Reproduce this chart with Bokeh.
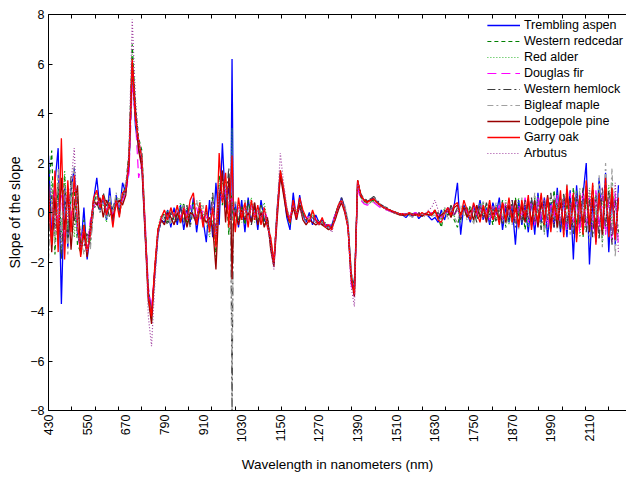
import math
from bokeh.plotting import figure
from bokeh.models import Range1d, FixedTicker, LinearAxis, Legend, LegendItem
from bokeh.embed import file_html
from bokeh.resources import INLINE

# Wavelength grid (nm); extra samples around the 1000 nm detector step
WAVELENGTH = list(range(430, 1000, 10)) + [996, 1000, 1004] + list(range(1010, 2201, 10))

X_TICK_LABELS = list(range(430, 2111, 120))
Y_TICKS = list(range(-8, 9, 2))

SPECIES = ["Trembling aspen", "Western redcedar", "Red alder", "Douglas fir",
           "Western hemlock", "Bigleaf maple", "Lodgepole pine", "Garry oak", "Arbutus"]

TREMBLING_ASPEN = [
    2.3, -1.0, 1.2, 2.6, -3.7, 1.1, -1.4, 0.9, 1.8, -0.8,
    -1.5, 0.2, -1.9, -0.7, 0.5, 1.4, 0.1, 0.6, -0.3, 1.0,
    -0.4, 0.7, 0.0, 1.2, 0.8, 1.8, 6.0, 3.5, 2.6, 1.9,
    -0.8, -3.2, -4.0, -2.5, -0.9, -0.3, -0.4, 0.1, -0.6, 0.2,
    -0.5, 0.3, -0.7, 0.1, -0.4, 0.6, -0.8, 0.2, -0.3, -1.2,
    0.5, -1.0, 1.2, -0.5, 2.8, 0.2, 1.0, -0.3, 6.2, -0.2, 0.4, -0.6,
    0.5, -0.8, 0.6, -0.4, 0.3, -0.7, 0.5, -0.3, -0.5, -1.2,
    -2.1, 0.1, 1.6, 0.9, -0.2, -0.7, 0.8, -0.3, 0.7, -0.1,
    -0.4, 0.0, -0.5, -0.1, -0.4, -0.3, -0.5, -0.6, -0.5, -0.1,
    0.2, 0.6, 0.2, -0.5, -2.5, -3.1, 1.2, 0.7, 0.5, 0.45,
    0.5, 0.6, 0.45, 0.3, 0.25, 0.15, 0.1, 0.05, 0.0, -0.05,
    -0.1, -0.2, -0.05, -0.15, 0.0, -0.25, -0.1, -0.05, -0.15, -0.3,
    -0.2, -0.4, 0.1, -0.3, 0.2, 0.0, 0.3, 1.2, -0.9, 0.3,
    0.0, -0.4, 0.3, -0.2, 0.5, -0.3, 0.2, -0.5, 0.4, -0.1,
    0.6, -0.7, 0.2, -0.4, 0.3, -1.3, 0.5, -0.5, 0.3, -0.8,
    0.5, -0.9, 0.8, -0.4, 0.6, -1.0, 0.4, -0.6, 1.0, -0.8,
    0.6, -1.0, 0.9, -1.9, 1.1, -0.6, 0.7, 2.0, -2.1, 0.5,
    -1.2, 1.4, -0.8, 1.6, -1.6, 0.9, -1.3, 1.1,
]

WESTERN_REDCEDAR = [
    1.0, 2.5, -1.7, 1.2, -0.8, 1.5, -1.1, 0.6, 1.0, -1.3,
    -1.6, -0.3, -1.4, -1.1, 0.4, 0.7, 0.3, 0.5, 0.0, 0.6,
    -0.3, 0.6, 0.1, 0.7, 1.1, 2.4, 6.8, 4.3, 3.0, 2.5,
    -0.4, -3.3, -4.4, -2.4, -0.8, -0.3, 0.0, -0.4, 0.1, -0.3,
    0.2, -0.3, 0.4, -0.5, 0.2, 0.4, -0.3, 0.1, -0.5, 0.0,
    -0.6, 0.6, -1.8, 1.5, 0.3, 1.3, -0.9, 0.8, 0.5, -0.5, 0.2, -0.3,
    0.2, -0.5, 0.5, -0.3, 0.1, -0.4, 0.3, -0.5, -0.3, -1.1,
    -2.0, 0.1, 1.7, 0.9, 0.0, -0.5, 0.4, -0.1, 0.5, 0.0,
    -0.3, -0.2, 0.0, -0.4, -0.3, -0.4, -0.5, -0.7, -0.6, -0.2,
    0.2, 0.5, 0.1, -0.5, -2.7, -3.2, 1.2, 0.65, 0.45, 0.4,
    0.45, 0.5, 0.4, 0.3, 0.2, 0.15, 0.1, 0.05, 0.0, -0.05,
    -0.1, -0.05, -0.1, 0.0, -0.1, -0.05, -0.1, 0.0, -0.1, -0.05,
    0.0, -0.2, -0.6, 0.1, -0.1, 0.2, -0.3, -0.6, 0.1, 0.2,
    -0.2, 0.3, -0.4, 0.2, -0.1, 0.4, -0.3, 0.1, -0.5, 0.3,
    -0.3, 0.5, -0.6, 0.2, -0.4, 0.6, -0.2, 0.4, -0.7, 0.3,
    -0.5, 0.6, -0.3, 0.7, -0.8, 0.4, -0.5, 0.9, -0.4, 0.6,
    -0.9, 0.5, -0.7, 1.0, -0.5, 0.8, -1.0, 0.6, -0.8, 1.1,
    -0.6, 0.9, -1.2, 0.7, -0.5, 1.2, -0.9, 0.4,
]

RED_ALDER = [
    -0.5, 1.3, -1.2, 0.9, -1.6, 1.7, -0.7, 1.1, -1.0, 0.8,
    -1.3, -1.0, -1.2, -0.4, 0.3, 0.8, 0.1, 0.4, -0.4, 0.5,
    0.1, 0.3, 0.6, 0.4, 1.0, 2.1, 6.4, 4.1, 2.7, 2.3,
    -0.7, -3.6, -4.3, -2.1, -0.6, -0.1, -0.2, 0.1, -0.4, 0.0,
    -0.2, 0.4, -0.1, 0.2, -0.3, 0.3, -0.4, 0.5, 0.0, -0.4,
    -1.0, -0.3, -1.6, 0.9, 1.2, 0.7, 0.2, 1.0, 3.4, 0.0, -0.4, 0.3,
    -0.4, 0.3, -0.2, 0.6, -0.4, 0.2, -0.2, 0.4, -0.4, -1.4,
    -1.9, -0.1, 1.6, 0.8, 0.2, -0.3, 0.3, 0.0, 0.3, -0.2,
    -0.2, -0.3, -0.1, -0.3, -0.4, -0.5, -0.4, -0.6, -0.5, -0.1,
    0.3, 0.5, 0.2, -0.4, -2.6, -3.3, 1.1, 0.6, 0.4, 0.35,
    0.4, 0.45, 0.35, 0.25, 0.2, 0.1, 0.05, 0.0, -0.05, -0.05,
    -0.05, -0.1, 0.0, -0.05, -0.1, 0.0, -0.05, -0.1, 0.0, -0.05,
    0.1, -0.1, -0.3, 0.2, 0.0, 0.3, -0.2, 0.2, -0.4, 0.3,
    0.1, -0.3, 0.2, -0.2, 0.4, -0.1, 0.3, -0.4, 0.2, -0.3,
    0.4, -0.2, 0.5, -0.5, 0.3, -0.3, 0.6, -0.4, 0.2, -0.6,
    0.5, -0.4, 0.7, -0.6, 0.3, -0.7, 0.5, -0.3, 0.8, -0.5,
    0.7, -0.8, 0.4, -0.6, 0.9, -1.0, 0.5, -0.7, 1.0, -0.6,
    0.8, -1.0, 0.6, -0.8, 1.1, -0.5, 0.7, -1.0,
]

DOUGLAS_FIR = [
    0.4, -0.9, 1.1, -0.4, 0.7, -1.0, 0.9, -0.3, 1.3, -0.6,
    -1.1, -0.7, -1.5, -0.3, 0.2, 0.5, 0.2, 0.6, 0.1, 0.3,
    -0.1, 0.4, 0.2, 0.5, 0.8, 1.6, 5.2, 3.8, 1.4, 2.0,
    -0.3, -3.0, -3.9, -2.3, -0.7, -0.2, 0.0, -0.2, 0.1, -0.1,
    0.1, -0.2, 0.2, -0.1, 0.3, -0.2, 0.2, -0.3, 0.1, -0.2,
    -0.3, 0.3, -0.6, 0.8, 0.5, 0.9, 0.1, 0.4, 0.6, 0.1, -0.2, 0.2,
    -0.1, 0.2, -0.3, 0.3, -0.1, 0.1, -0.3, 0.2, -0.3, -1.2,
    -2.1, -0.2, 1.5, 0.8, 0.1, -0.2, 0.3, -0.1, 0.2, -0.1,
    -0.2, -0.2, -0.1, -0.3, -0.4, -0.3, -0.5, -0.5, -0.5, -0.1,
    0.2, 0.4, 0.1, -0.5, -2.9, -3.4, 1.0, 0.5, 0.35, 0.3,
    0.35, 0.4, 0.3, 0.2, 0.15, 0.1, 0.05, 0.0, -0.05, -0.05,
    -0.05, -0.05, -0.1, -0.05, 0.0, -0.1, -0.05, -0.05, -0.1, 0.0,
    0.0, -0.1, -0.2, 0.1, 0.0, 0.2, -0.1, 0.1, -0.2, 0.2,
    0.0, -0.2, 0.2, -0.1, 0.3, -0.2, 0.1, -0.3, 0.2, -0.1,
    0.3, -0.3, 0.4, -0.2, 0.5, -0.4, 0.3, -0.2, 0.6, -0.4,
    0.4, -0.5, 0.6, -0.3, 0.5, -0.6, 0.4, -0.2, 0.7, -0.5,
    0.5, -0.7, 0.8, -0.4, 0.6, -0.8, 0.9, -0.5, 0.6, -0.7,
    0.9, -0.6, 0.7, -0.9, 0.5, -1.2, 0.8, -1.4,
]

WESTERN_HEMLOCK = [
    -1.4, 0.7, -0.6, 1.2, -1.9, 0.9, -1.2, 1.5, -0.5, 0.6,
    -1.2, -1.4, -0.8, -1.3, 0.1, 0.4, 0.0, 0.8, 0.3, -0.2,
    0.2, 0.6, -0.1, 0.6, 1.0, 1.9, 5.6, 3.7, 2.6, 2.1,
    -0.5, -3.1, -4.1, -2.3, -0.8, -0.4, -0.2, -0.5, 0.0, -0.4,
    -0.3, 0.2, -0.4, 0.3, -0.6, 0.2, -0.2, 0.3, -0.4, 0.1,
    -0.5, 0.8, -0.9, 0.6, 1.5, 0.3, 1.8, 0.2, -8.0, 0.3, 0.1, -0.4,
    0.3, -0.2, 0.4, -0.5, 0.2, -0.1, 0.3, -0.3, -0.2, -1.3,
    -2.0, 0.0, 1.6, 0.9, 0.1, -0.4, 0.5, -0.2, 0.4, -0.1,
    -0.3, -0.1, -0.2, -0.4, -0.3, -0.5, -0.4, -0.6, -0.6, -0.1,
    0.3, 0.6, 0.2, -0.4, -2.4, -3.0, 1.3, 0.75, 0.55, 0.5,
    0.55, 0.65, 0.5, 0.35, 0.25, 0.2, 0.1, 0.05, 0.0, -0.05,
    -0.1, -0.05, -0.15, -0.05, -0.1, 0.0, -0.15, -0.05, -0.1, -0.05,
    -0.1, 0.0, -0.2, 0.1, -0.2, 0.3, -0.1, 0.2, -0.3, 0.1,
    0.2, -0.3, 0.1, -0.4, 0.3, -0.2, 0.4, -0.1, 0.2, -0.4,
    0.2, -0.5, 0.3, -0.3, 0.5, -0.6, 0.2, -0.4, 0.5, -0.3,
    0.6, -0.4, 0.3, -0.7, 0.5, -0.3, 0.8, -0.6, 0.4, -0.7,
    0.8, -0.5, 0.6, -0.9, 0.7, -0.4, 1.0, -0.8, 0.5, -1.0,
    0.7, -1.1, 1.0, -0.6, 0.9, -1.3, 0.5, -0.8,
]

BIGLEAF_MAPLE = [
    -1.9, 0.5, -1.3, 1.8, -0.9, 1.1, -1.7, 0.8, 1.9, -1.1,
    -1.0, -1.7, -0.9, -1.5, 0.3, 0.6, 0.4, 0.3, -0.2, 0.7,
    0.0, 0.8, 0.3, 0.9, 1.2, 2.2, 5.9, 3.9, 2.3, 2.4,
    -0.6, -3.4, -4.2, -2.6, -0.9, -0.2, -0.3, -0.1, -0.5, 0.1,
    0.1, -0.5, 0.3, -0.2, 0.1, -0.3, 0.5, -0.2, 0.3, -0.5,
    -0.4, 0.4, -1.1, 1.1, 0.8, 1.2, 0.6, -0.2, -6.3, -0.3, 0.5, 0.0,
    -0.2, 0.5, -0.4, 0.1, 0.4, -0.3, 0.2, -0.1, -0.4, -1.0,
    -1.9, 0.2, 1.4, 1.0, 0.2, -0.3, 0.2, 0.1, 0.2, -0.2,
    -0.4, -0.2, -0.3, -0.4, -0.5, -0.4, -0.6, -0.6, -0.7, -0.3,
    0.1, 0.5, 0.3, -0.3, -2.3, -3.0, 1.1, 0.7, 0.5, 0.5,
    0.5, 0.6, 0.45, 0.35, 0.25, 0.15, 0.1, 0.05, 0.0, -0.05,
    -0.1, -0.15, -0.1, -0.2, -0.1, -0.15, -0.05, -0.2, -0.1, -0.15,
    -0.1, -0.3, -0.1, 0.2, -0.3, 0.1, -0.2, -0.4, 0.3, -0.1,
    -0.3, 0.2, -0.5, 0.3, -0.2, 0.5, -0.4, 0.2, -0.3, 0.4,
    -0.4, 0.3, -0.6, 0.4, -0.5, 0.2, -0.7, 0.6, -0.3, 0.4,
    -0.6, 0.8, -0.5, 0.4, -0.9, 0.6, -0.4, 0.7, -0.8, 0.5,
    -0.7, 1.2, -0.9, 0.6, -1.1, 1.0, -0.6, 1.3, -1.2, 0.8,
    -0.9, 1.5, -1.4, 2.0, -1.0, 1.8, -1.8, 0.9,
]

LODGEPOLE_PINE = [
    1.2, -1.6, 0.6, -1.1, 1.4, -0.7, 0.8, -1.5, 0.3, 1.1,
    -1.7, -0.8, -1.8, -0.6, 0.5, 0.3, 0.6, -0.2, 0.5, 0.2,
    -0.2, 0.3, 0.5, 0.3, 0.7, 2.3, 6.1, 4.2, 2.5, 1.8,
    -0.9, -3.5, -4.5, -2.4, -0.7, -0.3, -0.5, 0.0, -0.2, -0.5,
    0.0, -0.4, 0.1, -0.6, 0.0, -0.1, -0.5, 0.2, -0.2, -0.4,
    -0.2, -0.6, -2.3, 0.5, 1.7, -0.4, 1.4, 0.5, -2.7, -0.5, 0.0, -0.5,
    0.1, -0.3, 0.0, -0.4, 0.4, -0.5, 0.0, -0.6, -0.2, -1.5,
    -2.2, -0.3, 1.5, 0.7, -0.1, -0.4, 0.2, -0.3, 0.3, -0.3,
    -0.5, -0.3, -0.4, -0.5, -0.4, -0.5, -0.6, -0.7, -0.6, -0.3,
    0.1, 0.4, 0.0, -0.6, -2.7, -3.4, 1.3, 0.65, 0.5, 0.45,
    0.5, 0.55, 0.4, 0.3, 0.2, 0.15, 0.1, 0.0, -0.05, -0.1,
    -0.1, -0.1, -0.05, -0.1, -0.1, -0.05, -0.15, -0.05, -0.1, -0.1,
    0.1, -0.2, -0.1, 0.0, 0.1, -0.2, 0.2, 0.3, -0.1, 0.2,
    -0.2, 0.1, -0.3, 0.3, -0.2, 0.2, -0.4, 0.3, -0.1, 0.2,
    -0.3, 0.4, -0.4, 0.3, -0.2, 0.5, -0.5, 0.3, -0.4, 0.5,
    -0.4, 0.5, -0.6, 0.4, -0.3, 0.7, -0.5, 0.5, -0.6, 0.4,
    -0.5, 0.8, -0.7, 0.5, -0.9, 0.6, -0.5, 0.9, -0.8, 0.6,
    -0.8, 0.7, -0.9, 1.0, -0.7, 0.8, -1.0, 0.5,
]

GARRY_OAK = [
    0.6, -1.3, 1.7, -1.6, 3.0, -1.9, 1.3, -0.8, 1.5, -0.4,
    -1.8, -0.5, -1.6, -0.9, 0.6, 0.9, 0.2, 0.7, -0.1, 0.4,
    -0.6, 0.5, -0.2, 0.8, 0.9, 2.0, 6.2, 3.8, 2.9, 2.2,
    -0.6, -3.4, -4.2, -2.2, -0.7, -0.2, 0.1, -0.3, 0.2, -0.2,
    0.3, -0.4, 0.2, -0.3, 0.5, 0.8, -0.5, 0.4, -0.6, 0.3,
    -0.8, 0.2, -1.4, 2.4, 0.4, 1.6, -0.6, 1.2, 2.3, 0.2, -0.8, 0.6,
    -0.3, 0.4, -0.6, 0.5, -0.3, 0.3, -0.5, 0.2, -0.6, -1.0,
    -2.0, 0.0, 1.7, 1.0, 0.1, -0.4, 0.5, -0.2, 0.6, 0.1,
    -0.2, -0.4, 0.1, -0.3, -0.5, -0.2, -0.6, -0.5, -0.7, -0.2,
    0.3, 0.5, 0.1, -0.6, -2.6, -3.3, 1.3, 0.7, 0.5, 0.4,
    0.5, 0.55, 0.4, 0.3, 0.2, 0.15, 0.1, 0.05, 0.0, -0.05,
    -0.05, -0.1, 0.0, -0.1, -0.05, -0.15, 0.0, -0.1, 0.05, -0.1,
    0.1, -0.3, -0.4, 0.0, 0.2, -0.1, 0.3, 0.4, -0.2, 0.5,
    0.1, -0.3, 0.4, 0.0, -0.4, 0.3, -0.2, 0.5, -0.3, 0.2,
    -0.5, 0.4, -0.3, 0.6, -0.4, 0.2, -0.6, 0.5, -0.2, 0.7,
    -0.7, 0.3, -0.4, 0.8, -0.5, 0.6, -0.8, 0.4, -0.3, 0.9,
    -1.0, 1.1, -0.6, 0.8, -1.2, 0.7, -0.9, 1.3, -0.5, 1.2,
    -1.3, 0.8, -0.7, 1.4, -1.0, 1.0, -1.1, 0.6,
]

ARBUTUS = [
    0.2, 1.0, -0.8, 0.5, -1.3, 0.9, -0.4, 1.2, 2.6, -0.8,
    -1.4, -1.1, -1.6, -0.8, 0.4, 0.6, 0.3, 0.5, 0.1, 0.4,
    0.0, 0.5, 0.2, 0.6, 1.0, 2.5, 7.8, 4.6, 2.9, 2.4,
    -0.8, -4.2, -5.4, -2.9, -0.9, -0.3, -0.1, -0.2, 0.0, -0.2,
    0.1, -0.2, 0.3, -0.3, 0.2, 0.0, -0.2, 0.3, -0.2, 0.0,
    -0.5, 0.5, -1.0, 1.0, 0.6, 1.1, 0.3, 0.6, 0.4, 0.0, 0.1, -0.1,
    0.0, 0.2, -0.2, 0.3, -0.2, 0.1, -0.2, 0.1, -0.4, -1.4,
    -2.3, 0.1, 2.4, 1.2, 0.2, -0.3, 0.3, -0.1, 0.2, -0.2,
    -0.3, -0.3, -0.2, -0.4, -0.5, -0.4, -0.6, -0.6, -0.8, -0.2,
    0.2, 0.5, 0.1, -0.6, -3.0, -3.8, 1.2, 0.55, 0.4, 0.35,
    0.4, 0.45, 0.35, 0.25, 0.2, 0.1, 0.05, 0.0, -0.05, -0.05,
    -0.05, -0.05, -0.05, -0.1, -0.05, 0.0, -0.1, -0.05, 0.1, 0.2,
    0.5, 0.1, -0.3, 0.0, 0.1, 0.2, -0.1, 0.2, -0.2, 0.1,
    0.0, -0.2, 0.2, -0.1, 0.3, -0.3, 0.1, -0.2, 0.3, -0.1,
    0.2, -0.3, 0.4, -0.1, 0.3, -0.4, 0.2, -0.3, 0.4, -0.2,
    0.3, -0.4, 0.5, -0.2, 0.6, -0.4, 0.3, -0.5, 0.4, -0.3,
    0.6, -0.5, 0.4, -0.7, 0.8, -0.4, 0.5, -0.6, 0.9, -0.5,
    0.7, -0.8, 1.0, -0.5, 0.6, -0.9, 1.2, -1.6,
]

SERIES = [TREMBLING_ASPEN, WESTERN_REDCEDAR, RED_ALDER, DOUGLAS_FIR, WESTERN_HEMLOCK,
          BIGLEAF_MAPLE, LODGEPOLE_PINE, GARRY_OAK, ARBUTUS]
for s in SERIES:
    assert len(s) == len(WAVELENGTH), (len(s), len(WAVELENGTH))

STYLES = [
    dict(color="#0000ff", dash="solid", width=1.3),
    dict(color="#008000", dash="4 3", width=1.2),
    dict(color="#33b833", dash="1 2", width=1.2),
    dict(color="#ff00ff", dash="9 5", width=1.2),
    dict(color="#3c3c3c", dash="8 3 2 3", width=1.2),
    dict(color="#a0a0a0", dash="6 3 2 3", width=1.2),
    dict(color="#990000", dash="solid", width=1.3),
    dict(color="#ff0000", dash="solid", width=1.3),
    dict(color="#a040a0", dash="1 2", width=1.2),
]

FONT = "Liberation Sans"

p = figure(width=626, height=480, output_backend="svg", toolbar_location=None,
           x_range=Range1d(430, 2225), y_range=Range1d(-8, 8),
           min_border_left=48, min_border_right=0, min_border_top=14, min_border_bottom=70,
           background_fill_color="white", border_fill_color="white",
           outline_line_color=None)
p.grid.visible = False

TICK_STEP = 72.5
minor_marks = [430 + TICK_STEP * k for k in range(25)]

xa = p.xaxis[0]
xa.ticker = FixedTicker(ticks=X_TICK_LABELS, minor_ticks=minor_marks)
xa.major_tick_line_color = None
xa.major_tick_in = 0
xa.major_tick_out = 0
xa.minor_tick_line_color = "black"
xa.minor_tick_in = 4
xa.minor_tick_out = 0
xa.axis_line_color = "black"
xa.major_label_orientation = math.pi / 2
xa.major_label_text_font = FONT
xa.major_label_text_font_size = "12.5px"
xa.major_label_text_color = "black"
xa.major_label_standoff = 4
xa.axis_label = "Wavelength in nanometers (nm)"
xa.axis_label_text_font = FONT
xa.axis_label_text_font_size = "13.5px"
xa.axis_label_text_font_style = "normal"
xa.axis_label_text_color = "black"
xa.axis_label_standoff = 12

top = LinearAxis(ticker=FixedTicker(ticks=[], minor_ticks=minor_marks),
                 major_tick_in=0, major_tick_out=0, minor_tick_in=4, minor_tick_out=0,
                 minor_tick_line_color="black", axis_line_color="black",
                 major_label_text_font_size="0px", major_label_standoff=0)
p.add_layout(top, "above")

ya = p.yaxis[0]
ya.ticker = FixedTicker(ticks=Y_TICKS)
ya.major_tick_in = 4
ya.major_tick_out = 0
ya.major_tick_line_color = "black"
ya.minor_tick_line_color = None
ya.axis_line_color = "black"
ya.major_label_text_font = FONT
ya.major_label_text_font_size = "12.5px"
ya.major_label_text_color = "black"
ya.major_label_standoff = 4
ya.axis_label = "Slope of the slope"
ya.axis_label_text_font = FONT
ya.axis_label_text_font_size = "14px"
ya.axis_label_text_font_style = "normal"
ya.axis_label_text_color = "black"
ya.axis_label_standoff = 4

items = []
for name, vals, st in zip(SPECIES, SERIES, STYLES):
    r = p.line(WAVELENGTH, vals, line_color=st["color"], line_dash=st["dash"],
               line_width=st["width"])
    items.append(LegendItem(label=name, renderers=[r]))

legend = Legend(items=items, location="top_right")
legend.margin = 3
legend.padding = 2
legend.spacing = 0
legend.glyph_width = 33
legend.glyph_height = 16
legend.label_height = 16
legend.label_standoff = 4
legend.label_text_font = FONT
legend.label_text_font_size = "12.5px"
legend.label_text_color = "black"
legend.border_line_color = None
legend.background_fill_alpha = 0
p.add_layout(legend)

open("out.html", "w").write(file_html(p, INLINE))
